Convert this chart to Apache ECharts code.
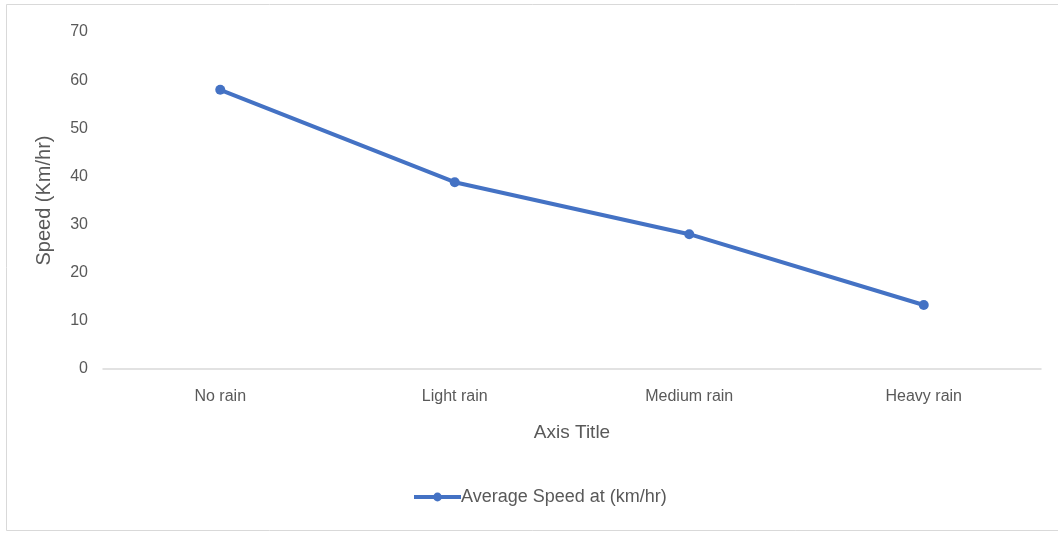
<!DOCTYPE html>
<html>
<head>
<meta charset="utf-8">
<script src="https://cdn.jsdelivr.net/npm/echarts@6/dist/echarts.min.js"></script>
<style>
  html, body { margin: 0; padding: 0; background: #ffffff; }
  #chart { width: 1058px; height: 533px; }
</style>
</head>
<body>
<div id="chart"></div>
<script>
// Rain conditions and average travel speed
const categories = ['No rain', 'Light rain', 'Medium rain', 'Heavy rain'];
const speedValues = [58, 38.8, 28, 13.3];
const seriesName = 'Average Speed at (km/hr)';

const FONT = '"Liberation Sans", Arial, sans-serif';
const TEXT = '#595959';
const BLUE = '#4472C4';

const chart = echarts.init(document.getElementById('chart'), null, { renderer: 'canvas' });

chart.setOption({
  backgroundColor: '#ffffff',
  animation: false,
  graphic: [{
    type: 'rect',
    shape: { x: 6.5, y: 4.5, width: 1060, height: 526 },
    style: { fill: 'none', stroke: '#d9d9d9', lineWidth: 1 },
    silent: true,
    z: -1
  }],
  grid: { left: 103, right: 17, top: 32, bottom: 164, containLabel: false },
  legend: {
    bottom: 22,
    left: 407,
    itemWidth: 47,
    itemHeight: 11,
    itemGap: 0,
    lineStyle: { width: 4 },
    textStyle: { color: TEXT, fontFamily: FONT, fontSize: 18, padding: [0, 0, 0, -5] },
    data: [seriesName]
  },
  xAxis: {
    type: 'category',
    data: categories,
    boundaryGap: true,
    name: 'Axis Title',
    nameLocation: 'middle',
    nameGap: 54,
    nameTextStyle: { color: TEXT, fontFamily: FONT, fontSize: 19 },
    axisLine: { lineStyle: { color: '#d9d9d9', width: 1.5 } },
    axisTick: { show: false },
    axisLabel: { color: TEXT, fontFamily: FONT, fontSize: 16, margin: 20 }
  },
  yAxis: {
    type: 'value',
    min: 0,
    max: 70,
    interval: 10,
    name: 'Speed (Km/hr)',
    nameLocation: 'middle',
    nameGap: 49,
    nameTextStyle: { color: TEXT, fontFamily: FONT, fontSize: 20 },
    axisLine: { show: false },
    axisTick: { show: false },
    splitLine: { show: false },
    axisLabel: { color: TEXT, fontFamily: FONT, fontSize: 16, margin: 15 }
  },
  series: [{
    name: seriesName,
    type: 'line',
    data: speedValues,
    symbol: 'circle',
    symbolSize: 10,
    lineStyle: { color: BLUE, width: 4 },
    itemStyle: { color: BLUE },
    label: { show: false }
  }]
});
</script>
</body>
</html>
